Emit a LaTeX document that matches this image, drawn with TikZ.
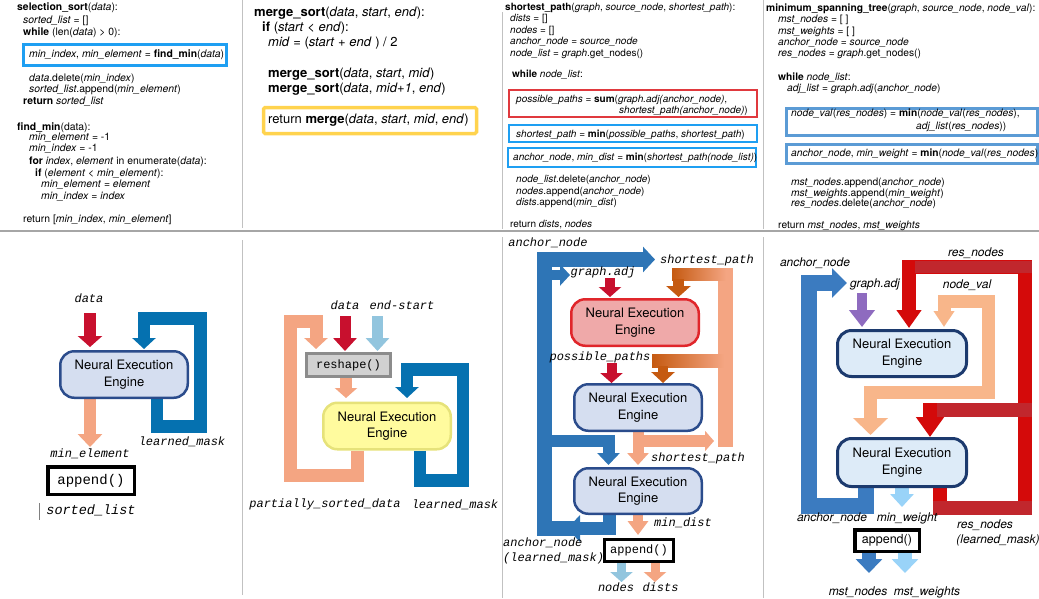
\documentclass[tikz,border=0pt]{standalone}
\usepackage{fontspec}
\setmainfont{TeX Gyre Heros}
\setmonofont{Liberation Mono}
\usetikzlibrary{arrows.meta}
\pgfdeclarelayer{back}
\pgfsetlayers{back,main}
\definecolor{redA}{HTML}{C8102E}
\definecolor{blueA}{HTML}{0571B0}
\definecolor{salmon}{HTML}{F4A582}
\definecolor{lblue}{HTML}{92C5DE}
\definecolor{blueC}{HTML}{2E75B6}
\definecolor{dkor}{HTML}{C55A11}
\definecolor{neeF}{HTML}{D5DEF0}
\definecolor{neeD}{HTML}{2B4C8C}
\definecolor{neeRF}{HTML}{EFA9A9}
\definecolor{neeRD}{HTML}{E0262B}
\definecolor{neeYF}{HTML}{FFFB9E}
\definecolor{neeYD}{HTML}{E6E27A}
\definecolor{neeLF}{HTML}{DDEBF8}
\definecolor{neeLD}{HTML}{1C3A6E}
\definecolor{blueD}{HTML}{3B7BC0}
\definecolor{purp}{HTML}{8E6BBF}
\definecolor{redD}{HTML}{D40A0A}
\definecolor{redE}{HTML}{C1272D}
\definecolor{salD}{HTML}{F8B68A}
\definecolor{lblueD}{HTML}{99D3F8}
\definecolor{boxblue}{HTML}{1E9FF2}
\definecolor{boxred}{HTML}{E0393E}
\definecolor{boxyel}{HTML}{FFD34E}
\definecolor{boxsteel}{HTML}{5B9BD5}
\definecolor{sepc}{HTML}{A6A6A6}
\begin{document}
\begin{tikzpicture}[x=1pt,y=-1pt,
  code/.style={anchor=base west, inner sep=0pt, font=\fontsize{10}{12}\selectfont},
  codeA/.style={anchor=base west, inner sep=0pt, font=\fontsize{10.4}{12}\selectfont},
  codeD/.style={anchor=base west, inner sep=0pt, font=\fontsize{10.25}{12}\selectfont},
  codeL/.style={anchor=base west, inner sep=0pt, font=\fontsize{13}{15}\selectfont},
  lbl/.style={inner sep=0pt, font=\fontsize{12}{14}\selectfont\ttfamily\itshape},
  slbl/.style={inner sep=0pt, font=\fontsize{12}{14}\selectfont\itshape},
  nee/.style={rounded corners=14pt, line width=2.5pt, minimum width=127.5pt, minimum height=46.5pt, align=center, inner sep=0pt, font=\fontsize{13}{16.5}\selectfont},
  abox/.style={draw=black, line width=3.5pt, inner sep=0pt, fill=white},
  hd/.style 2 args={-{Triangle[width=#1,length=#2]}},
  bx/.style={line width=2.5pt},
  sep/.style={draw=sepc, line width=1.3pt},
  vsep/.style={draw=sepc!70, line width=0.9pt}
]
\useasboundingbox (0,0) rectangle (1039,598);

% separators
\draw[sep] (0,231) -- (1039,231);
\draw[vsep] (242,0) -- (242,228);
\draw[vsep] (242,240) -- (242,595);
\draw[vsep] (502,12) -- (502,229);
\draw[vsep] (502,237) -- (502,598);
\draw[vsep] (763,0) -- (763,229);
\draw[vsep] (763,237) -- (763,598);

% ---------- Panel 1 code ----------
\node[codeA] (a1) at (17,10.5) {\textbf{selection\_sort}(\textit{data}):};
\node[codeA] (a2) at (23,23.5) {\textit{sorted\_list} = []};
\node[codeA] (a3) at (23,35.5) {\textbf{while} (len(\textit{data}) > 0):};
\draw[bx, draw=boxblue, line width=3pt] (23.5,44.5) rectangle (226.5,65.5);
\node[codeA] (a4) at (29,57.5) {\textit{min\_index}, \textit{min\_element} = \textbf{find\_min}(\textit{data})};
\node[codeA] (a5) at (29,81.5) {\textit{data}.delete(\textit{min\_index})};
\node[codeA] (a6) at (29,92.5) {\textit{sorted\_list}.append(\textit{min\_element})};
\node[codeA] (a7) at (23,104.5) {\textbf{return} \textit{sorted\_list}};
\node[codeA] (a8) at (17,130.5) {\textbf{find\_min}(data):};
\node[codeA] (a9) at (29,140.5) {\textit{min\_element} = -1};
\node[codeA] (a10) at (29,151.5) {\textit{min\_index} = -1};
\node[codeA] (a11) at (29,164.5) {\textbf{for} \textit{index}, \textit{element} in enumerate(\textit{data}):};
\node[codeA] (a12) at (35,176.5) {\textbf{if} (\textit{element} < \textit{min\_element}):};
\node[codeA] (a13) at (41,187.5) {\textit{min\_element} = \textit{element}};
\node[codeA] (a14) at (41,199.5) {\textit{min\_index} = \textit{index}};
\node[codeA] (a15) at (23,222.5) {return [\textit{min\_index}, \textit{min\_element}]};

% ---------- Panel 2 code ----------
\node[codeL] (b1) at (254,16.6) {\textbf{merge\_sort}(\textit{data}, \textit{start}, \textit{end}):};
\node[codeL] (b2) at (262,31.6) {\textbf{if} (\textit{start} < \textit{end}):};
\node[codeL] (b3) at (268,46.6) {\textit{mid} = (\textit{start} + \textit{end} ) / 2};
\node[codeL] (b4) at (268,77.6) {\textbf{merge\_sort}(\textit{data}, \textit{start}, \textit{mid})};
\node[codeL] (b5) at (268,92.6) {\textbf{merge\_sort}(\textit{data}, \textit{mid+1}, \textit{end})};
\draw[draw=boxyel, line width=3.5pt, rounded corners=1.5pt] (263.5,107.5) rectangle (476.5,133.5);
\node[codeL] (b6) at (268,123.6) {return \textbf{merge}(\textit{data}, \textit{start}, \textit{mid}, \textit{end})};

% ---------- Panel 3 code ----------
\node[code] (c1) at (505,10.5) {\textbf{shortest\_path}(\textit{graph}, \textit{source\_node}, \textit{shortest\_path}):};
\node[code] (c2) at (510,21.5) {\textit{dists} = []};
\node[code] (c3) at (510,33.5) {\textit{nodes} = []};
\node[code] (c4) at (510,44.5) {\textit{anchor\_node} = \textit{source\_node}};
\node[code] (c5) at (510,56.5) {\textit{node\_list} = \textit{graph}.get\_nodes()};
\node[code] (c6) at (512,77.5) {\textbf{while} \textit{node\_list}:};
\draw[bx, draw=boxred] (509,90) rectangle (757,117);
\node[code] (c7) at (516,102.5) {\textit{possible\_paths} = \textbf{sum}(\textit{graph.adj(anchor\_node)},};
\node[code] (c8) at (619,113.5) {\textit{shortest\_path(anchor\_node)})};
\draw[bx, draw=boxblue] (509,125) rectangle (757,142);
\node[code] (c9) at (516,137.5) {\textit{shortest\_path} = \textbf{min}(\textit{possible\_paths}, \textit{shortest\_path})};
\draw[bx, draw=boxblue] (508,148) rectangle (756,167);
\node[code] (c10) at (513,160.5) {\textit{anchor\_node}, \textit{min\_dist} = \textbf{min}(\textit{shortest\_path(node\_list)})};
\node[code] (c11) at (516,182.5) {\textit{node\_list}.delete(\textit{anchor\_node})};
\node[code] (c12) at (516,194.5) {\textit{nodes}.append(\textit{anchor\_node})};
\node[code] (c13) at (516,205.5) {\textit{dists}.append(\textit{min\_dist})};
\node[code] (c14) at (510,227.5) {return \textit{dists}, \textit{nodes}};

% ---------- Panel 4 code ----------
\node[codeD] (d1) at (766,11.5) {\textbf{minimum\_spanning\_tree}(\textit{graph}, \textit{source\_node}, \textit{node\_val}):};
\node[codeD] (d2) at (778,22.5) {\textit{mst\_nodes} = [ ]};
\node[codeD] (d3) at (778,34.5) {\textit{mst\_weights} = [ ]};
\node[codeD] (d4) at (778,45.5) {\textit{anchor\_node} = \textit{source\_node}};
\node[codeD] (d5) at (778,56.5) {\textit{res\_nodes} = \textit{graph}.get\_nodes()};
\node[codeD] (d6) at (778,80.5) {\textbf{while} \textit{node\_list}:};
\node[codeD] (d7) at (787,91.5) {\textit{adj\_list} = \textit{graph}.\textit{adj}(\textit{anchor\_node})};
\draw[bx, draw=boxsteel, line width=3pt] (786.5,108.5) rectangle (1037.5,135.5);
\node[codeD] (d8) at (791,116.5) {\textit{node\_val}(\textit{res\_nodes}) = \textbf{min}(\textit{node\_val}(\textit{res\_nodes}),};
\node[codeD] (d9) at (916,129.5) {\textit{adj\_list}(\textit{res\_nodes}))};
\draw[bx, draw=boxsteel, line width=3pt] (786.5,144.5) rectangle (1037.5,163.5);
\node[codeD] (d10) at (791,156.5) {\textit{anchor\_node}, \textit{min\_weight} = \textbf{min}(\textit{node\_val}(\textit{res\_nodes})};
\node[codeD] (d11) at (791,185.5) {\textit{mst\_nodes}.append(\textit{anchor\_node})};
\node[codeD] (d12) at (791,196.5) {\textit{mst\_weights}.append(\textit{min\_weight})};
\node[codeD] (d13) at (791,206.5) {\textit{res\_nodes}.delete(\textit{anchor\_node})};
\node[codeD] (d14) at (778,228.5) {return \textit{mst\_nodes}, \textit{mst\_weights}};

% ---------- Panel 1 diagram ----------
\node[nee, fill=neeF, draw=neeD] (p1n) at (124,374.5) {Neural Execution\\Engine};
\node[abox, minimum width=86.5pt, minimum height=27.5pt, font=\fontsize{14}{16}\selectfont\ttfamily] (p1a) at (91,480.5) {append()};
\node[lbl] (p1l1) at (89,298) {data};
\node[lbl] (p1l2) at (182,442) {learned\_mask};
\node[lbl] (p1l3) at (90,454) {min\_element};
\node[lbl, font=\fontsize{13.5}{15}\selectfont\ttfamily\itshape] (p1l4) at (91,510) {sorted\_list};
\begin{pgfonlayer}{back}
\draw[line width=12pt, redA, hd={24pt}{11pt}] (90,313) -- (90,347);
\draw[line width=12.5pt, blueA, line join=miter, hd={23pt}{11pt}] ([xshift=33pt]p1n.south) -- (157,426.5) -- (200.5,426.5) -- (200.5,318.5) -- (144,318.5) -- (144,349);
\draw[line width=12pt, salmon, hd={24pt}{13pt}] ([xshift=-34pt]p1n.south) -- (90,447);
\end{pgfonlayer}
\draw[draw=gray, line width=0.8pt] (39,503) -- (39,520);

% ---------- Panel 2 diagram ----------
\node[draw=gray!90, fill=black!18, line width=3pt, minimum width=84pt, minimum height=23pt, inner sep=0pt, font=\fontsize{12}{14}\selectfont\ttfamily] (p2r) at (348.5,365) {reshape()};
\node[nee, fill=neeYF, draw=neeYD] (p2n) at (387,426) {Neural Execution\\Engine};
\node[lbl] (p2l1) at (345,305) {data};
\node[lbl] (p2l2) at (402,305) {end-start};
\node[lbl] (p2l3) at (325,504) {partially\_sorted\_data};
\node[lbl] (p2l4) at (455,505) {learned\_mask};
\begin{pgfonlayer}{back}
\draw[line width=11pt, redA, hd={23pt}{13pt}] (345,316) -- (345,351);
\draw[line width=11pt, lblue, hd={23pt}{13pt}] (377.5,316) -- (377.5,351);
\draw[line width=12pt, salmon, hd={22pt}{10pt}] ([xshift=-2.5pt]p2r.south) -- (346,398);
\draw[line width=13pt, salmon, line join=miter, hd={23pt}{11pt}] ([xshift=-30pt]p2n.south) -- (357,475.5) -- (290.5,475.5) -- (290.5,321) -- (316,321) -- (316,349);
\draw[line width=12.5pt, blueA, line join=miter, hd={23pt}{11pt}] ([xshift=33pt]p2n.south) -- (420,480.5) -- (463,480.5) -- (463,369.5) -- (407,369.5) -- (407,398);
\end{pgfonlayer}

% ---------- Panel 3 diagram ----------
\node[nee, fill=neeRF, draw=neeRD] (p3a) at (635,322.5) {Neural Execution\\Engine};
\node[nee, fill=neeF, draw=neeD] (p3b) at (638,407.5) {Neural Execution\\Engine};
\node[nee, fill=neeF, draw=neeD, minimum height=45.5pt] (p3c) at (638,491) {Neural Execution\\Engine};
\node[abox, line width=3pt, minimum width=69pt, minimum height=22pt, font=\fontsize{12}{14}\selectfont\ttfamily] (p3d) at (639,550.5) {append()};
\node[lbl] (p3l1) at (548,243) {anchor\_node};
\node[lbl] (p3l2) at (603,272) {graph.adj};
\node[lbl] (p3l3) at (707,260) {shortest\_path};
\node[lbl] (p3l4) at (600,357) {possible\_paths};
\node[lbl] (p3l5) at (698,458) {shortest\_path};
\node[lbl] (p3l6) at (683,523) {min\_dist};
\node[lbl, anchor=west] (p3l7) at (503,543) {anchor\_node};
\node[lbl, anchor=west] (p3l8) at (503,558) {(learned\_mask)};
\node[lbl] (p3l9) at (616,587) {nodes};
\node[lbl] (p3l10) at (660.5,587) {dists};
\begin{pgfonlayer}{back}
% blue anchor loop
\draw[line width=14.5pt, blueC, line join=miter, hd={25pt}{12pt}] (576,528.5) -- (544.5,528.5) -- (544.5,259.5) -- (655,259.5);
\draw[line width=13pt, blueC, line join=miter, hd={26pt}{13pt}] ([xshift=-28.5pt]p3c.south) -- (609.5,528.5) -- (567,528.5);
\draw[line width=10pt, blueC, hd={21pt}{10pt}] (551,275) -- (570,275);
\draw[line width=12pt, blueC, line join=miter, hd={22pt}{12pt}] (551,440.5) -- (608.5,440.5) -- (608.5,465);
% red inputs
\draw[line width=10pt, redA, hd={22pt}{10pt}] (610,278) -- (610,297);
\draw[line width=10pt, redA, hd={22pt}{10pt}] (611.5,363) -- (611.5,383);
% salmon / orange
\draw[line width=15pt, salmon] (725.5,268) -- (725.5,447);
\shade[left color=dkor, right color=salmon] (672,268) rectangle (726,280);
\shade[left color=dkor, right color=salmon] (652,354) rectangle (724,367);
\draw[line width=11pt, dkor, hd={24pt}{11pt}] (678.5,279) -- (678.5,297);
\draw[line width=10pt, dkor, hd={23pt}{11pt}] (663,366) -- (663,383);
\draw[line width=11pt, salmon, hd={21pt}{12pt}] (p3b.south) -- (638,465);
\draw[line width=12pt, salmon, hd={20pt}{9pt}] (632.5,441) -- (714,441);
\draw[line width=10pt, salmon, hd={20pt}{14pt}] (p3c.south) -- (638,535);
% outputs
\draw[line width=9pt, lblue, hd={22pt}{10pt}] ([xshift=-17.5pt]p3d.south) -- (621.5,582);
\draw[line width=9pt, salmon, hd={22pt}{10pt}] ([xshift=16pt]p3d.south) -- (655,582);
\end{pgfonlayer}

% ---------- Panel 4 diagram ----------
\node[nee, fill=neeLF, draw=neeLD, line width=3pt, minimum width=129pt, minimum height=46pt] (p4a) at (902,353.5) {Neural Execution\\Engine};
\node[nee, fill=neeLF, draw=neeLD, line width=3pt, minimum width=129pt, minimum height=48pt] (p4b) at (902,462.5) {Neural Execution\\Engine};
\node[abox, minimum width=64.5pt, minimum height=21.5pt, font=\fontsize{12.5}{14}\selectfont] (p4c) at (887,540.5) {append()};
\node[slbl] (p4l1) at (976,253) {res\_nodes};
\node[slbl] (p4l2) at (815,263) {anchor\_node};
\node[slbl] (p4l3) at (875,284) {graph.adj};
\node[slbl] (p4l4) at (967,285) {node\_val};
\node[slbl] (p4l5) at (832,518) {anchor\_node};
\node[slbl] (p4l6) at (907,518) {min\_weight};
\node[slbl] (p4l7) at (985,525) {res\_nodes};
\node[slbl] (p4l8) at (998,540) {(learned\_mask)};
\node[slbl] (p4l9) at (858,592) {mst\_nodes};
\node[slbl] (p4l10) at (927,592) {mst\_weights};
\begin{pgfonlayer}{back}
\draw[line width=16pt, blueD, line join=miter, hd={29pt}{15pt}] ([xshift=-36pt]p4b.south) -- (866,506) -- (809,506) -- (809,283) -- (847,283);
\draw[line width=10pt, purp, hd={25pt}{17pt}] (862,293) -- (862,327);
\draw[line width=14pt, redD, line join=miter, hd={24pt}{18pt}] ([xshift=38pt]p4b.south) -- (940,508) -- (1025,508) -- (1025,267) -- (909,267) -- (909,328);
\draw[line width=14pt, redD, line join=miter, hd={27pt}{20pt}] (1025,410) -- (930,410) -- (930,437);
\fill[redE] (915,261) rectangle (1032,273);
\fill[redE] (937,403) rectangle (1032,417);
\fill[redE] (933,501) rectangle (1032,515);
\draw[line width=13pt, salD, line join=miter, {Triangle[width=20pt,length=16pt]}-{Triangle[width=34pt,length=17pt]}] (944,327) -- (944,301) -- (988.5,301) -- (988.5,392.5) -- (870.5,392.5) -- (870.5,435);
\draw[line width=14pt, lblueD, hd={23pt}{13pt}] (p4b.south) -- (902,507);
\draw[line width=14pt, blueD, hd={26pt}{14pt}] ([xshift=-18pt]p4c.south) -- (869,573);
\draw[line width=14pt, lblueD, hd={26pt}{14pt}] ([xshift=18pt]p4c.south) -- (905,573);
\end{pgfonlayer}
\end{tikzpicture}
\end{document}
